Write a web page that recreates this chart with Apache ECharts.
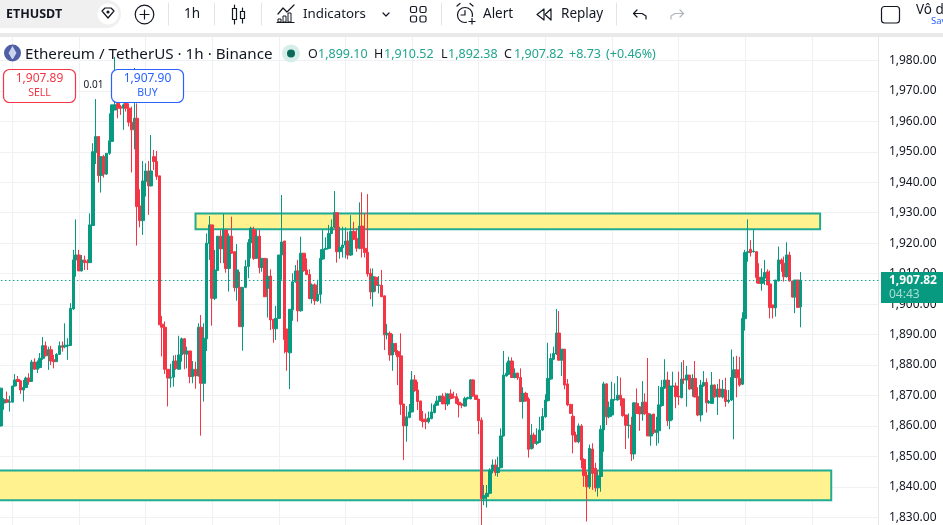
<!DOCTYPE html>
<html><head><meta charset="utf-8">
<style>html,body{margin:0;padding:0;background:#fff;overflow:hidden;height:525px}#c{position:absolute;left:-10px;top:0;width:953px;height:560px}</style>
<script src="https://cdn.jsdelivr.net/npm/echarts@6/dist/echarts.min.js"></script>
</head><body><div id="c"></div>
<script>
// [open, close, low, high], one row per hour
const candles = [
[1860,1872.4,1859.8,1872.4],[1867.5,1868.6,1865.3,1869.1],[1868.6,1867.8,1867.5,1871.3],[1867.8,1867.9,1864.7,1869.9],[1867.8,1873.1,1867.8,1873.1],[1873.1,1875.1,1872.9,1877],[1875.3,1874.6,1874.5,1876.4],[1874.8,1871.8,1870.5,1875.1],[1871.8,1872.6,1868,1875.1],[1872.6,1875.7,1872.6,1876.2],
[1875.7,1874.6,1873.5,1877.3],[1874.6,1881,1874.5,1881.7],[1881,1878.6,1878.4,1882.2],[1878.6,1881,1877.3,1881.5],[1879.2,1882.2,1878.9,1883.9],[1882.2,1886.3,1881.7,1889.2],[1886.3,1883,1882.8,1887.7],[1883,1885,1878.4,1886],[1885,1881.3,1880,1886.3],[1881.7,1881.1,1878.9,1883.3],
[1881.1,1883.5,1881,1883.9],[1883.5,1886.3,1883.3,1887.7],[1886.3,1885.8,1884.4,1887.7],[1886,1886.5,1885.5,1893.7],[1886.3,1886.5,1881.7,1888.8],[1886.4,1898.6,1886.4,1900.3],[1898.4,1914.5,1898.1,1917.8],[1914.5,1916.1,1909,1927.8],[1916.1,1910.9,1910.9,1917.8],[1910.9,1914.5,1910.7,1916.1],
[1914.5,1913.6,1911.2,1915.9],[1914.1,1913.6,1911.2,1914.7],[1913.6,1926,1913.6,1929.8],[1925.8,1950,1925.8,1952.8],[1949.7,1955,1946,1967.3],[1955,1942.2,1939.9,1955],[1942.2,1948.4,1936.6,1948.4],[1948.4,1942.7,1941.5,1949],[1942.7,1949.5,1942.4,1949.5],[1949.5,1953.6,1949,1962.6],
[1953.4,1965.4,1953.4,1965.4],[1963.7,1965.4,1963.7,1981.1],[1965.9,1964.3,1961,1967],[1964.8,1964.3,1962.1,1965.4],[1964.3,1965.4,1957.2,1965.9],[1965.9,1964.3,1963.2,1967],[1964.3,1959.7,1958.3,1965.9],[1959.7,1957.2,1943.2,1964.8],[1957.2,1961,1950.8,1977.5],[1961,1932,1919.2,1965.9],
[1932.2,1927.4,1925.2,1937.7],[1927.4,1940.4,1922.7,1947],[1940.2,1943.7,1935.3,1946.2],[1943.7,1938.8,1929.3,1947],[1938.8,1943.7,1938.6,1955.5],[1948.4,1946.8,1944,1950.6],[1946.8,1941.9,1940.8,1950.3],[1942.1,1893.2,1893.2,1942.1],[1893.4,1892.4,1882.8,1896.1],[1892.4,1878.6,1877.1,1894.3],
[1878.6,1875.7,1866.4,1878.6],[1875.7,1876,1872.6,1880.4],[1876,1881.3,1872.9,1883.1],[1881.3,1878.9,1878.4,1883.3],[1878.6,1883.3,1878.4,1889.6],[1883.3,1888.6,1881.1,1889],[1888.6,1883.6,1878.6,1888.8],[1883.6,1884.6,1878.9,1886],[1884.6,1876.2,1874,1884.6],[1876.2,1878.6,1874,1881.3],
[1878.6,1876.4,1872.2,1881.1],[1876.4,1892.4,1876.2,1893.7],[1892.4,1874,1856.8,1896.4],[1874,1888.8,1868,1893.7],[1888.6,1920,1884.6,1923.2],[1919.8,1926,1914.5,1928.9],[1926,1901.9,1892.9,1926],[1901.9,1911.2,1901.3,1917.8],[1911,1922.3,1911,1922.3],[1922.3,1918.1,1913.4,1924.3],
[1918.1,1924.3,1913.4,1929.6],[1924.3,1911.7,1910.3,1924.3],[1911.7,1922.3,1904.1,1923.2],[1922.3,1916.7,1916.5,1928.7],[1917.2,1905.4,1904.1,1917.2],[1905.4,1911.2,1901.1,1919.7],[1905.5,1892.6,1892.6,1910.6],[1892.6,1905.5,1884.7,1905.5],[1905.5,1912.3,1905.2,1914.5],[1912.3,1920.2,1908.5,1921.3],
[1920.2,1924.9,1915,1925.4],[1924.5,1915,1914.5,1925.4],[1915,1922.3,1915,1924.3],[1922.3,1912,1910.1,1924.3],[1912,1915,1910.6,1915],[1915,1902.4,1902.4,1915],[1905.1,1909.2,1895.6,1915],[1909.2,1894.8,1891.5,1911.4],[1895,1891.9,1887.3,1895],[1891.9,1895.3,1888.2,1899.4],
[1895.3,1916.1,1895.3,1916.1],[1916.1,1920.4,1908,1935.8],[1920.7,1888.4,1883.8,1920.7],[1891.8,1884.3,1878.1,1891.8],[1884,1898.3,1872.1,1898.3],[1898.1,1907.3,1894.5,1910.1],[1907.3,1910.9,1907,1912.8],[1910.9,1897.8,1894.2,1914.5],[1897.8,1916.7,1897.5,1922.1],[1916.7,1911,1910.6,1916.7],
[1911.2,1909.7,1909.5,1915],[1909.7,1901.8,1901.6,1911.4],[1901.8,1906.3,1900.2,1906.8],[1906.3,1901.1,1899.7,1906.8],[1901.1,1903.2,1900.8,1908],[1903.2,1915,1900.2,1918],[1914.8,1918,1914.5,1924.3],[1918,1918.3,1917.8,1921.9],[1918.3,1923.2,1918,1926],[1923.2,1925.2,1923,1927.8],
[1925.2,1930,1924.9,1937.1],[1930,1917.2,1913.6,1930],[1917.2,1918.6,1914.9,1925.4],[1918.5,1919.4,1915.3,1925.4],[1919.4,1920.7,1915,1925.2],[1920.7,1916.1,1914.7,1923.8],[1916.1,1923.8,1915.8,1929.2],[1923.8,1921.3,1921,1927],[1921.6,1918.3,1917.2,1924.9],[1918.3,1925.6,1918,1933.4],
[1925.6,1918.3,1915.3,1936.7],[1918.3,1916.9,1915.3,1929.8],[1917,1909.9,1909,1936.1],[1910.1,1904,1901.6,1911.7],[1904,1909,1899.2,1911.7],[1908.8,1906.2,1904.1,1909],[1906.1,1906.3,1903.5,1909.2],[1906.2,1902.4,1902.4,1911.2],[1902.7,1889.9,1884.9,1902.7],[1889.9,1890.4,1888.4,1893.5],
[1890.4,1883.3,1881.4,1891],[1883.3,1887.1,1878.1,1890.2],[1887.1,1884.3,1883.3,1887.1],[1884.4,1882.7,1873.4,1884.9],[1883,1867.1,1863.6,1890.4],[1867.2,1860,1848.8,1867.2],[1860,1863,1854.8,1866.5],[1862.8,1864.6,1862.5,1867.2],[1864.6,1875.1,1864.4,1878],[1875.1,1871.6,1871.2,1876.7],
[1871.8,1868,1865.2,1874.5],[1868.2,1861.9,1861.7,1868.2],[1862.2,1861.4,1859.5,1864.9],[1862.2,1861.4,1858.9,1864.1],[1861.4,1862.6,1860.8,1864.7],[1862.4,1864.6,1862.2,1867.4],[1864.4,1866.9,1864.1,1867.4],[1866.8,1868.2,1866.5,1869.8],[1868,1869.8,1867.9,1869.8],[1869.8,1867.2,1867.2,1870.7],
[1869.6,1867.2,1865.2,1870.9],[1867.2,1870.5,1866.5,1870.7],[1870.5,1869,1868.7,1872],[1869.6,1869.4,1869,1871.2],[1869.6,1867.4,1867.2,1870.7],[1867.8,1866.9,1862.8,1869],[1867.2,1866.8,1865.8,1867.6],[1866.5,1869,1866.3,1869.6],[1868.9,1869.3,1868.7,1869.6],[1868.9,1875.1,1868.7,1875.4],
[1875.1,1869.8,1869.6,1875.3],[1870.1,1868.7,1868.5,1870.1],[1868.8,1861.7,1857.3,1868.8],[1861.9,1836.2,1827.5,1862.8],[1836.2,1837.1,1834,1840.6],[1836.8,1837.9,1833.2,1840.6],[1837.9,1845.5,1837.6,1846.1],[1845.3,1847.2,1844.4,1849],[1847.2,1844.7,1843.6,1849],[1844.7,1846.3,1843.3,1849.9],
[1846.3,1856.7,1846.1,1859.2],[1856.7,1876.7,1856.5,1884.6],[1876.4,1877.3,1876.2,1880.8],[1877,1881.3,1876.7,1882.7],[1881.3,1875.9,1875.8,1882.5],[1875.9,1877.3,1875.6,1878.9],[1877.3,1875.8,1875.1,1877.5],[1875.9,1868,1868,1878.9],[1868,1870.7,1862.4,1872.7],[1870.7,1868.2,1868,1871.2],
[1868.8,1852.3,1849.6,1869.4],[1852.5,1857,1852.3,1860.6],[1857,1854.3,1852.6,1857.8],[1854.3,1854.8,1853.7,1859.2],[1854.6,1858.7,1854.5,1863],[1858.7,1863.1,1858.3,1865.8],[1863,1868.5,1862.7,1870.4],[1868.3,1875.6,1868,1887.3],[1875.4,1882.1,1875.1,1883.8],[1881.9,1883.8,1881.6,1886],
[1883.6,1890.5,1883.3,1898.4],[1890.5,1881.6,1881.4,1897.7],[1881.6,1885.2,1876.4,1885.2],[1885.2,1873.4,1872,1885.2],[1873.8,1866.9,1866.5,1875.4],[1867.1,1864.1,1863.9,1867.1],[1863.2,1857,1851,1867.2],[1857,1854.8,1854.6,1858.1],[1854.8,1860,1854.3,1860.8],[1860,1848.8,1846.1,1860.6],
[1849,1843.7,1840,1849.4],[1843.7,1840,1828.6,1845],[1840,1852.6,1839.3,1853.9],[1852.4,1844.4,1839,1854.3],[1846.1,1839.7,1838.4,1847.9],[1839.7,1843.6,1836.8,1845.5],[1843.4,1858.9,1838.4,1860.2],[1858.7,1873.8,1851.5,1874.5],[1873.8,1863,1860.3,1874],[1863,1866.1,1862.5,1868],
[1863.6,1868.7,1863,1874.5],[1868.6,1868.7,1868.3,1874],[1868.5,1870.1,1868.3,1876.4],[1870.1,1868.7,1866.5,1875.9],[1868.9,1863.4,1863,1868.9],[1863.6,1860.2,1852.4,1863.6],[1860.1,1860.3,1855.9,1864.1],[1860.3,1850.8,1848.5,1863],[1850.8,1867.6,1849,1867.6],[1867.4,1864.1,1864.1,1872.3],
[1866.3,1863.9,1858.4,1866.3],[1863.9,1867.8,1861.7,1874.7],[1867.8,1864.1,1863.6,1870.7],[1864.1,1856.7,1856.7,1882.3],[1856.7,1863.6,1853.5,1864.1],[1863.9,1857.8,1857.3,1863.9],[1857.8,1858.7,1853.5,1863],[1858.4,1866.9,1854.3,1873.1],[1866.7,1872.7,1866.3,1875.1],[1872.4,1875.1,1872.1,1881.9],
[1875.1,1861.7,1860,1877.8],[1861.7,1873.1,1858.9,1875.1],[1872.9,1873.1,1861.9,1877.8],[1873.1,1869.6,1865.8,1874.2],[1869.8,1869.5,1866.9,1877.8],[1869.3,1875.4,1869,1880.9],[1875.4,1875.1,1873.8,1881.6],[1875.1,1876.7,1866.3,1879.7],[1876.7,1872.1,1871.8,1876.7],[1872.1,1875.6,1869.6,1877],
[1875.6,1869.5,1869.4,1881.3],[1869.6,1863.6,1863.2,1872.7],[1863.6,1873.4,1861.4,1875.1],[1873.1,1874.3,1872.9,1878],[1874.3,1867.6,1864.4,1875.6],[1867.6,1868,1867.2,1868.5],[1867.4,1873.4,1867.2,1877.7],[1873.4,1869.5,1869.3,1873.6],[1869.5,1872.1,1863.6,1873.8],[1872.1,1869.6,1869.3,1875.4],
[1869.5,1872,1869,1875.1],[1871.8,1868,1866.3,1875.8],[1868,1868.5,1867.4,1871.8],[1868.5,1875.9,1868.2,1885.1],[1875.9,1878.4,1855.6,1882.7],[1878.4,1875.8,1869.4,1883],[1875.6,1873.4,1872.9,1882.7],[1873.7,1895.3,1873.4,1897.3],[1895.2,1916.9,1891.3,1917.8],[1916.9,1917.2,1913.9,1927.8],
[1918,1916.9,1915.6,1921],[1917.2,1917.4,1916.9,1924.5],[1917.2,1908.7,1906.8,1917.4],[1908.8,1906.8,1906.6,1913.4],[1906.8,1908.8,1904.4,1911.7],[1908.5,1910.4,1906.3,1914.5],[1910.6,1906.3,1906.3,1911.4],[1906.6,1898.9,1895.3,1911],[1899.7,1898.8,1895.3,1899.7],[1898.8,1907.9,1895.9,1907.9],
[1907.6,1914.5,1907.4,1918.9],[1914.5,1913.2,1910.6,1915],[1913.4,1909,1907.4,1915.6],[1909,1916.1,1908.7,1920.3],[1916.1,1907.6,1907.4,1917.2],[1907.6,1902.3,1902.1,1907.6],[1902.3,1907.9,1897,1907.9],[1907.9,1898.9,1898.9,1907.9],[1899.10,1907.82,1892.38,1910.52]
];
const leadingSlots = 3;          // empty hours before the first visible candle
const totalSlots = 320;          // hours across the plot, including the empty space on the right
const dayLineOffset = 7;         // first slot that carries a day line
const priceTicks = [1980,1970,1960,1950,1940,1930,1920,1910,1900,1890,1880,1870,1860,1850,1840,1830];
const lastPrice = 1907.82;
const resistanceZone = [1929.7, 1924.6];
const resistanceSlots = [73, 298];
const supportZone = [1845.4, 1835.6];
const supportSlots = [0, 302];
const ohlcLegend = ['1,899.10','1,910.52','1,892.38','1,907.82','+8.73','(+0.46%)'];

const UP='#089981', DOWN='#F23645', GRID='#F0F1F4', INK='#131722', FONT='"Noto Sans"';
const categories = Array.from({length:totalSlots},(_,i)=>'h'+i);
const seriesData = [];
for(let i=0;i<totalSlots;i++){
  const r=candles[i-leadingSlots];
  seriesData.push(r?r:'-');
}
const fmt=v=>v.toLocaleString('en-US',{minimumFractionDigits:2,maximumFractionDigits:2});

const T=(text,x,y,size,fill,extra)=>({type:'text',z:100,style:Object.assign({text,x,y,fill,font:(extra&&extra.weight?extra.weight+' ':'')+size+'px '+FONT,verticalAlign:'middle',align:(extra&&extra.align)||'left'})});
const L=(x1,y1,x2,y2,c,w)=>({type:'line',z:100,shape:{x1,y1,x2,y2},style:{stroke:c||INK,lineWidth:w||1.2,lineCap:'round'}});
const R=(x,y,width,height,fill,stroke,r,w)=>({type:'rect',z:100,shape:{x,y,width,height,r:r||0},style:{fill:fill||'none',stroke:stroke||'none',lineWidth:w||1}});
const C=(cx,cy,rr,fill,stroke,w)=>({type:'circle',z:100,shape:{cx,cy,r:rr},style:{fill:fill||'none',stroke:stroke||'none',lineWidth:w||1}});
const P=(points,stroke,w,fill)=>({type:fill?'polygon':'polyline',z:100,shape:{points},style:{stroke:stroke||INK,lineWidth:w||1.2,fill:fill||'none',lineJoin:'round',lineCap:'round'}});

const chrome=[
 R(-10,0,963,33,'#fff'), R(-10,33,963,4,'#E9E9EA'),
 R(-30,0,151,28,'#F0F0F0',null,14),
 T('ETHUSDT',6,14.5,12.5,INK,{weight:'bold'}),
 C(108,14,10.5,'#fff'),
 P([[102,11],[105,8],[111,8],[114,11],[108,18],[102,11]],INK,1.2), C(108,12,1.6,INK),
 C(144.5,14.5,9.3,null,INK,1.2), L(140,14.5,149,14.5), L(144.5,10,144.5,19),
 L(168.5,3,168.5,25,'#E4E4E6',1), L(214.5,3,214.5,25,'#E4E4E6',1), L(261.5,3,261.5,25,'#E4E4E6',1), L(441.5,3,441.5,25,'#E4E4E6',1), L(616.5,3,616.5,25,'#E4E4E6',1),
 T('1h',184,14.5,13.5,INK),
 L(234.5,5,234.5,8.5),R(232.5,8.5,4,11,null,INK,0,1.2),L(234.5,19.5,234.5,24),
 L(242.5,8,242.5,11.5),R(240.5,11.5,4,7,null,INK,0,1.2),L(242.5,18.5,242.5,23),
 P([[278,14],[283,8],[287,12],[294,5]],INK,1.2),
 R(278,19,3,3,null,INK,0,1),R(283,16,3,6,null,INK,0,1),R(288,13,3,9,null,INK,0,1),L(277,22.5,294,22.5),
 T('Indicators',303,14.5,13.3,INK),
 P([[383,13],[386,16],[389,13]],INK,1.2),
 R(410.5,6.5,6,6,null,INK,1.5,1.2),R(420,6.5,6,6,null,INK,1.5,1.2),R(410.5,16,6,6,null,INK,1.5,1.2),R(420,16,6,6,null,INK,1.5,1.2),
 C(465,15,7.5,null,INK,1.2),P([[465,10.5],[465,15],[461,15]],INK,1.2),P([[457,6],[460,3.5]],INK,1.2),P([[470,3.5],[473,6]],INK,1.2),
 R(467,17,8,8,'#fff'),L(472,18.5,472,24),L(469,21.5,475,21.5),
 T('Alert',483,14.5,13.5,INK),
 P([[544,9],[537,14.5],[544,20],[544,9]],INK,1.2),P([[551,9],[545,14.5],[551,20],[551,9]],INK,1.2),
 T('Replay',561,14.5,13.5,INK),
 P([[637,10],[633.5,13.5],[637,17]],INK,1.2),P([[634,13.5],[642,13.5],[646,16],[646,19]],INK,1.2),
 P([[680,10],[683.5,13.5],[680,17]],'#B2B5BE',1.2),P([[683,13.5],[675,13.5],[671,16],[671,19]],'#B2B5BE',1.2),
 R(881.5,6.5,18,16.5,null,INK,3,1.2),
 T('Vô d',916,10,13.5,INK), T('Sav',931,21,9.5,'#2962FF'),

 C(12.5,53,8.5,'#4F5FA6'), P([[12.5,47],[16,53],[12.5,59],[9,53],[12.5,47]],'#DDE3F5',.8,'#C9D2EE'),
 T('Ethereum / TetherUS · 1h · Binance',25,54.5,15.2,INK),
 C(291,53.5,9,'#D6EEE9'), C(291,53.5,4,'#0B6B5B'),
 T('O',308,54,12.5,INK), T(ohlcLegend[0],318,54,12.5,'#1FA58E'),
 T('H',374,54,12.5,INK), T(ohlcLegend[1],384,54,12.5,'#1FA58E'),
 T('L',441,54,12.5,INK), T(ohlcLegend[2],448,54,12.5,'#1FA58E'),
 T('C',504,54,12.5,INK), T(ohlcLegend[3],514,54,12.5,'#1FA58E'),
 T(ohlcLegend[4],569,54,12.5,'#1FA58E'), T(ohlcLegend[5],606,54,12.5,'#1FA58E'),

 R(3.5,69.5,72,33,'#fff','#F23645',6,1.2),
 T('1,907.89',39.5,79,12,DOWN,{align:'center'}), T('SELL',39.5,93,10.5,DOWN,{align:'center'}),
 T('0.01',93.5,85.5,10,INK,{align:'center'}),
 R(111.5,69.5,72,33,'#fff','#2962FF',6,1.2),
 T('1,907.90',147.5,79,12,'#2962FF',{align:'center'}), T('BUY',147.5,93,10.5,'#2962FF',{align:'center'}),

 R(881,272,62,31,UP),
 T('1,907.82',889,281,12,'#fff',{weight:'bold'}), T('04:43',889,294.5,12,'#A8DDD2')
];

const chart=echarts.init(document.getElementById('c'),null,{renderer:'canvas'});
chart.setOption({
 animation:false,
 backgroundColor:'#fff',
 grid:{left:2.872,top:29.94,width:885.552,height:517.82,containLabel:false},
 xAxis:{type:'category',data:categories,boundaryGap:false,
   axisLine:{show:false},axisTick:{show:false},axisLabel:{show:false},
   splitLine:{show:true,interval:(i)=>(i-dayLineOffset)%24===0,lineStyle:{color:GRID,width:1}}},
 yAxis:{type:'value',position:'right',min:1820,max:1990,interval:10,scale:true,
   axisLine:{show:true,lineStyle:{color:'#E6E7EA',width:1}},axisTick:{show:false},
   axisLabel:{margin:10.5,color:INK,fontFamily:FONT,fontSize:12,
     formatter:v=>priceTicks.includes(v)?fmt(v):''},
   splitLine:{show:true,lineStyle:{color:GRID,width:1}}},
 series:[{
   type:'candlestick',data:seriesData,barWidth:3,clip:false,
   itemStyle:{color:UP,color0:DOWN,borderColor:UP,borderColor0:DOWN,borderWidth:1},
   markArea:{silent:true,itemStyle:{color:'#FFF28F',borderColor:'#22AB94',borderWidth:2},
     data:[
       [{xAxis:resistanceSlots[0],yAxis:resistanceZone[0]},{xAxis:resistanceSlots[1],yAxis:resistanceZone[1]}],
       [{xAxis:supportSlots[0],yAxis:supportZone[0]},{xAxis:supportSlots[1],yAxis:supportZone[1]}]
     ]},
   markLine:{silent:true,symbol:'none',label:{show:false},
     lineStyle:{color:'#10A38B',type:[1.5,2.5],width:1.2},data:[{yAxis:lastPrice}]}
 }],
 graphic:{elements:[{type:'group',x:10,y:0,children:chrome}]}
});
</script></body></html>
